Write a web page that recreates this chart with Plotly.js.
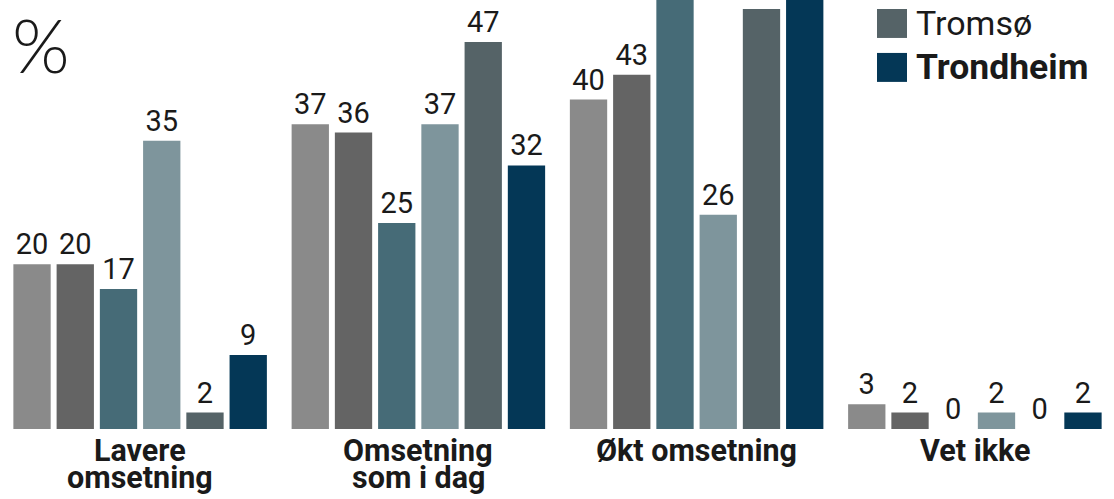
<!DOCTYPE html>
<html>
<head>
<meta charset="utf-8">
<script src="https://cdn.plot.ly/plotly-3.0.1.min.js"></script>
<style>
  html, body { margin: 0; padding: 0; background: #ffffff; overflow: hidden; }
  #chart { width: 1114px; height: 499px; }
</style>
</head>
<body>
<div id="chart"></div>
<script>
// ---- Data ----
const categories = ["Lavere omsetning", "Omsetning som i dag", "Økt omsetning", "Vet ikke"];
const categoryLines = [["Lavere", "omsetning"], ["Omsetning", "som i dag"], ["Økt omsetning"], ["Vet ikke"]];

const seriesNames = ["Serie 1", "Serie 2", "Serie 3", "Serie 4", "Tromsø", "Trondheim"];
const series1 = [20, 37, 40, 3];
const series2 = [20, 36, 43, 2];
const series3 = [17, 25, 58, 0];
const series4 = [35, 37, 26, 2];
const tromso = [2, 47, 51, 0];
const trondheim = [9, 32, 57, 2];
const seriesValues = [series1, series2, series3, series4, tromso, trondheim];

const seriesColors = ["#8a8a8a", "#646464", "#466b77", "#7e959c", "#556367", "#043756"];
const legendShown = ["Tromsø", "Trondheim"];

// ---- Layout geometry (pixels) ----
const W = 1114, H = 499;
const M = { l: 1, r: 0, t: 0, b: 69.5 };
const plotW = W - M.l - M.r, plotH = H - M.t - M.b;
const yMax = 52.09;
const px2x = px => (px - M.l) / plotW;
const py2y = py => (M.t + plotH - py) / plotH;

const textColor = "#1a1a1a";
const numFont = { family: "Roboto, 'Open Sans', sans-serif", size: 29, color: textColor };

const traces = seriesValues.map((vals, i) => ({
  type: "bar",
  name: seriesNames[i],
  x: categories,
  y: vals,
  marker: { color: seriesColors[i], line: { width: 0 } },
  text: vals.map(String),
  textposition: "outside",
  textfont: numFont,
  cliponaxis: false,
  constraintext: "none",
  hoverinfo: "skip",
  showlegend: false
}));

const annotations = [];
const shapes = [];

// "%" unit label
annotations.push({
  text: "%", xref: "paper", yref: "paper",
  x: px2x(10), y: py2y(45), xanchor: "left", yanchor: "middle",
  showarrow: false,
  font: { family: "Lato, 'Open Sans', sans-serif", size: 74, weight: 300, color: textColor }
});

// Category labels (one annotation per line, tight line spacing as in the reference)
categoryLines.forEach((lines, ci) => {
  lines.forEach((ln, li) => {
    annotations.push({
      text: "<b>" + ln + "</b>", xref: "x", yref: "paper",
      x: categories[ci], y: py2y(451 + li * 27.5),
      xanchor: "center", yanchor: "middle", showarrow: false,
      font: { family: "Roboto, 'Open Sans', sans-serif", size: 30.5, color: textColor }
    });
  });
});

// Legend (custom large squares)
legendShown.forEach((name, k) => {
  const idx = seriesNames.indexOf(name);
  const top = 9 + k * 44;
  const isMain = idx === seriesNames.length - 1;
  shapes.push({
    type: "rect", xref: "paper", yref: "paper",
    x0: px2x(877), x1: px2x(907), y0: py2y(top + 29), y1: py2y(top),
    fillcolor: seriesColors[idx], line: { width: 0 }
  });
  annotations.push({
    text: isMain ? "<b>" + name + "</b>" : name,
    xref: "paper", yref: "paper",
    x: px2x(914), y: py2y(top + 14), xanchor: "left", yanchor: "middle",
    showarrow: false,
    font: { family: "Roboto, 'Open Sans', sans-serif", size: isMain ? 35.5 : 34, color: textColor }
  });
});

const layout = {
  width: W, height: H,
  margin: M,
  paper_bgcolor: "#ffffff", plot_bgcolor: "#ffffff",
  barmode: "group",
  bargap: 0.0676,
  bargroupgap: 0.137,
  showlegend: false,
  xaxis: {
    type: "category", range: [-0.5, 3.5],
    showticklabels: false, showgrid: false, zeroline: false, showline: false, ticks: ""
  },
  yaxis: {
    range: [0, yMax], showticklabels: false, showgrid: false, zeroline: false, showline: false, ticks: ""
  },
  annotations: annotations,
  shapes: shapes
};

Plotly.newPlot("chart", traces, layout, { staticPlot: true, displayModeBar: false });
</script>
</body>
</html>
